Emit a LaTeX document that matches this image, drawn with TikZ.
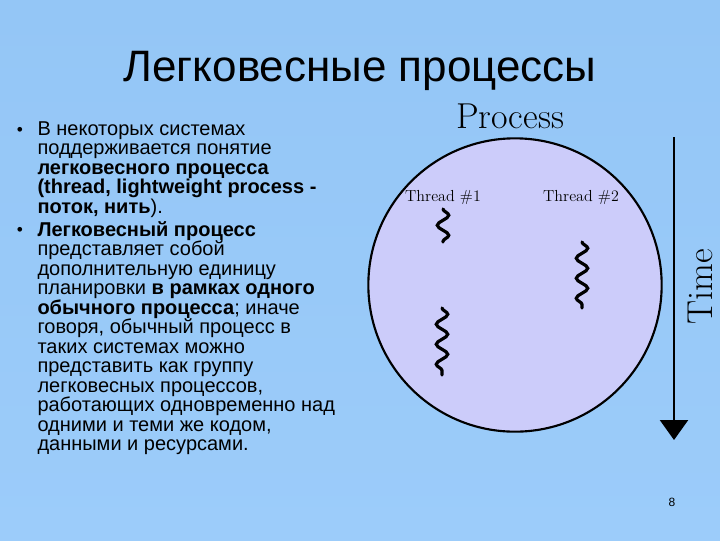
\documentclass[tikz,border=0pt]{standalone}
\definecolor{slidetop}{RGB}{148, 198, 246}
\definecolor{slidemid}{RGB}{192, 220, 247}
\definecolor{slidebottom}{RGB}{156, 204, 250}
\definecolor{proclilac}{RGB}{204, 204, 250}
\usepackage{fontspec}
\newfontfamily\arialfont{Liberation Sans}
\usepackage{tikz}
\usetikzlibrary{arrows.meta,decorations.pathmorphing}
\tikzset{every picture/.style={line width=0.75pt}}
\tikzset{threadline/.style={line width=2.4pt, line cap=round, decorate, decoration={snake, amplitude=4.3pt, segment length=15pt}}}
\tikzset{bodytext/.style={anchor=north west, align=left, inner sep=0pt, font=\arialfont\fontsize{15}{14.6}\selectfont}}

\begin{document}
\begin{tikzpicture}[x=0.75pt,y=0.75pt,yscale=-1,xscale=1]
%Background
\shade [top color=slidetop, middle color=slidemid, bottom color=slidebottom] (0,0) rectangle (720,540);
\useasboundingbox (0,0) rectangle (720,540);
%Text: title
\node (title) at (360,71) {\arialfont\fontsize{33}{38}\selectfont Легковесные процессы};
%Text: bullets
\node (bul1) at (20,131) {\arialfont\fontsize{13}{14}\selectfont •};
\node (bul2) at (20,231) {\arialfont\fontsize{13}{14}\selectfont •};
\node (para1) [bodytext] at (37,121) {В некоторых системах\\ поддерживается понятие\\ \textbf{легковесного процесса}\\ \textbf{(thread, lightweight process -}\\ \textbf{поток, нить}).};
\node (para2) [bodytext] at (37,221) {\textbf{Легковесный процесс}\\ представляет собой\\ дополнительную единицу\\ планировки \textbf{в рамках одного}\\ \textbf{обычного процесса}; иначе\\ говоря, обычный процесс в\\ таких системах можно\\ представить как группу\\ легковесных процессов,\\ работающих одновременно над\\ одними и теми же кодом,\\ данными и ресурсами.};
%Shape: Circle
\node (proc) [circle, draw, line width=1.6pt, fill=proclilac, minimum size=220pt] at (515,285) {};
%Text
\node (proclbl) at (510,116) {\fontsize{27}{32}\selectfont Process};
\node (thr1) at (443,197) {\fontsize{12}{14}\selectfont Thread \#1};
\node (thr2) at (581,197) {\fontsize{12}{14}\selectfont Thread \#2};
\node (timelbl) [rotate=90] at (700,287) {\fontsize{27}{32}\selectfont Time};
%Wavy lines
\coordinate (t1a) at (443,209);
\coordinate (t1b) at (443,242);
\coordinate (t1c) at (442,308);
\coordinate (t1d) at (442,375);
\coordinate (t2a) at (582,242);
\coordinate (t2b) at (582,308);
\draw [threadline] (t1a) -- (t1b);
\draw [threadline] (t1c) -- (t1d);
\draw [threadline] (t2a) -- (t2b);
%Straight Lines: time arrow
\coordinate (tstart) at (674,137);
\coordinate (tend) at (674,440);
\draw [line width=1.8pt, -{Triangle[width=21pt,length=15pt]}] (tstart) -- (tend);
%Text: page number
\node (pagenum) at (672,502) {\arialfont\fontsize{9}{11}\selectfont 8};
\end{tikzpicture}
\end{document}
